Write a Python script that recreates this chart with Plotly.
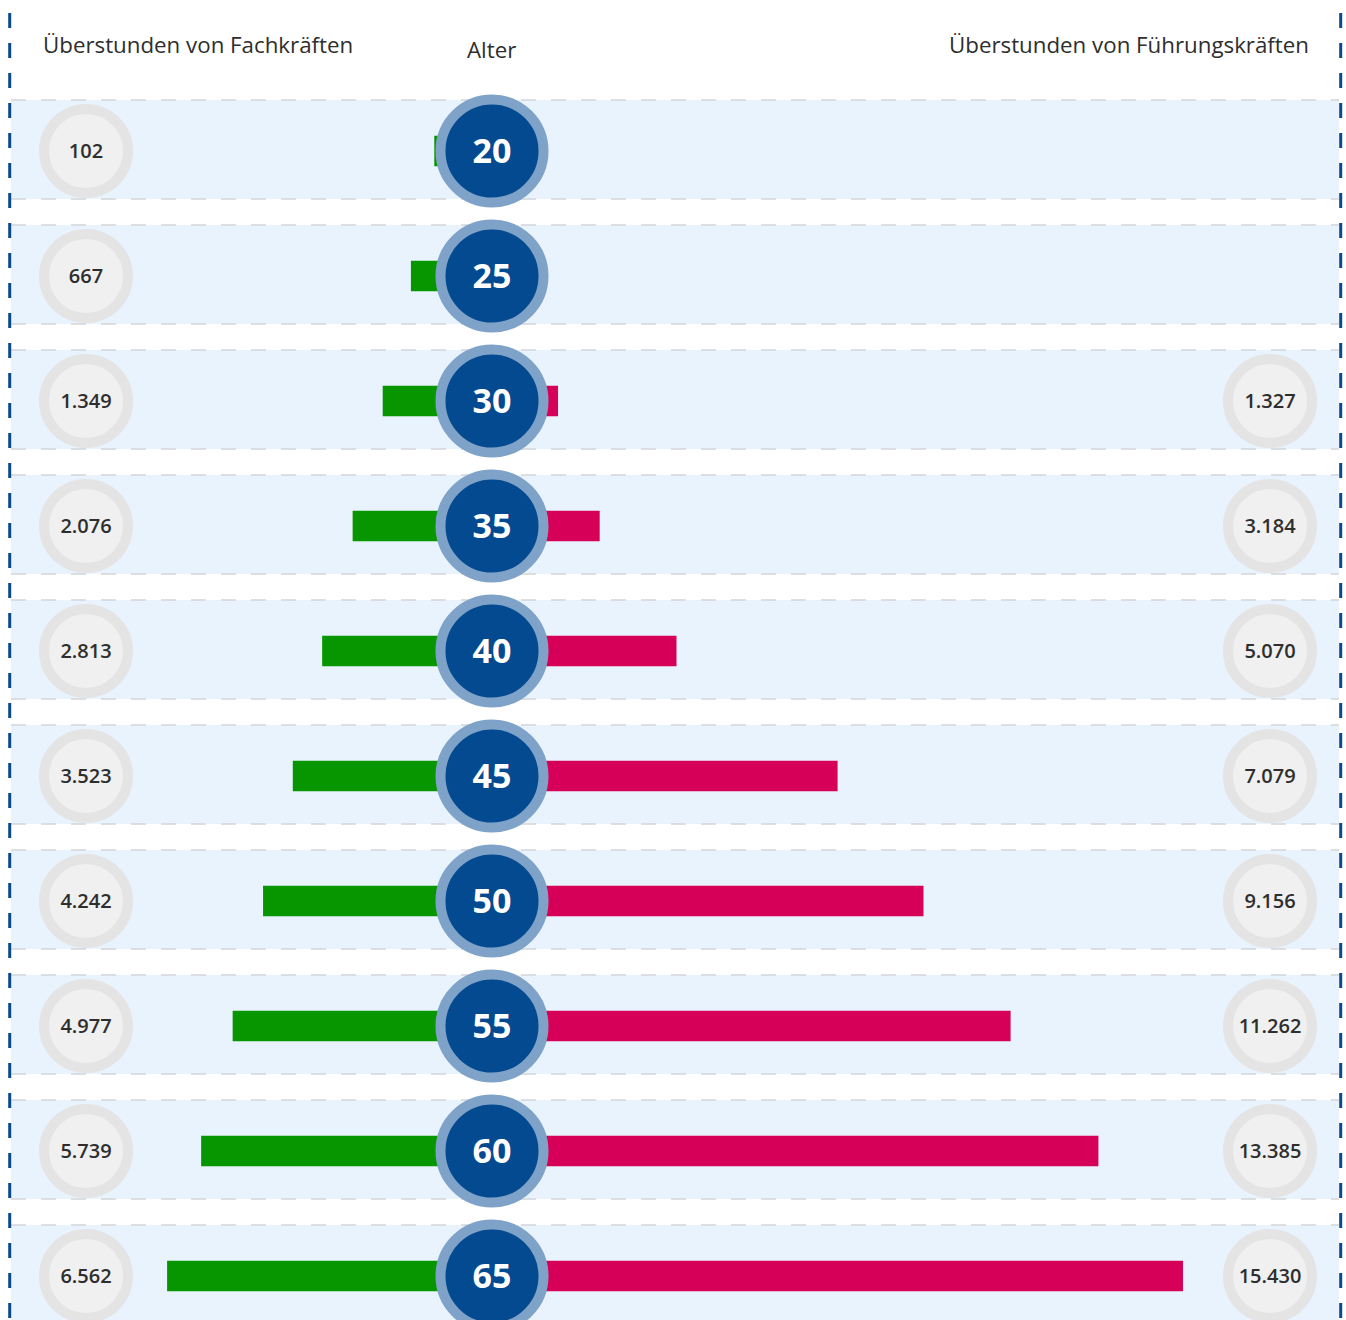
import plotly.graph_objects as go

# ---------------- data ----------------
ages = [20, 25, 30, 35, 40, 45, 50, 55, 60, 65]
fach_values = [102, 667, 1349, 2076, 2813, 3523, 4242, 4977, 5739, 6562]
fuehrung_labels = [None, None, 1327, 3184, 5070, 7079, 9156, 11262, 13385, 15430]
# bar lengths as drawn in the reference (red bars)
fuehrung_bars = [0, 0, 320, 1327, 3184, 7079, 9156, 11262, 13385, 15430]

header_left = "Überstunden von Fachkräften"
header_mid = "Alter"
header_right = "Überstunden von Führungskräften"

# ---------------- style ----------------
W, H = 1346, 1320
GREEN = "#079600"
RED = "#d70058"
BLUE = "#044a91"
RING = "#7fa3c8"
BAND = "#e8f3fd"
GRID = "#d3d5d8"
TXT = "#2e2e2e"

PX_PER_UNIT = 0.04136
CENTER_X = 492
ZERO_LEFT = 438.5
ZERO_RIGHT = 544.8
ROW0 = 151
ROW_STEP = 125
AGE_TXT_SHIFT = 3 / ROW_STEP     # small downward nudge of text glyphs
LBL_TXT_SHIFT = 2 / ROW_STEP

def fmt(v):
    return f"{v:,}".replace(",", ".")

rows = list(range(len(ages)))

fig = go.Figure()

# bands
shapes = []
for i in rows:
    y0 = i + (100 - ROW0) / ROW_STEP
    y1 = i + (199 - ROW0) / ROW_STEP
    shapes.append(dict(type="rect", xref="paper", yref="y", x0=11 / W, x1=1339 / W,
                       y0=y0, y1=y1, fillcolor=BAND, line=dict(width=0), layer="below"))
    for yy in (y0, y1):
        shapes.append(dict(type="line", xref="paper", yref="y", x0=11 / W, x1=1339 / W,
                           y0=yy, y1=yy, line=dict(color=GRID, width=1.5, dash="15px,15px"),
                           layer="below"))
# blue dashed side lines
for xx in (9.7, 1340.7):
    shapes.append(dict(type="line", xref="paper", yref="paper", x0=xx / W, x1=xx / W,
                       y0=1 - 13 / H, y1=0, line=dict(color="#0a4a8c", width=3, dash="15px,15px"),
                       layer="above"))

# green bars (Fachkräfte)
fig.add_trace(go.Bar(y=rows, x=fach_values, orientation="h", width=0.244,
                     marker=dict(color=GREEN, line=dict(width=0)), xaxis="x", yaxis="y",
                     hoverinfo="skip"))
# red bars (Führungskräfte)
fig.add_trace(go.Bar(y=rows, x=fuehrung_bars, orientation="h", width=0.244,
                     marker=dict(color=RED, line=dict(width=0)), xaxis="x2", yaxis="y",
                     hoverinfo="skip"))

# age circles
fig.add_trace(go.Scatter(x=[0] * len(rows), y=rows, mode="markers",
                         marker=dict(size=103, color=BLUE, line=dict(color=RING, width=10)),
                         xaxis="x3", yaxis="y", cliponaxis=False, hoverinfo="skip"))
fig.add_trace(go.Scatter(x=[0] * len(rows), y=[r + AGE_TXT_SHIFT for r in rows], mode="text",
                         text=[str(a) for a in ages], textposition="middle center",
                         textfont=dict(family="Open Sans", size=34, color="white", weight=700),
                         xaxis="x3", yaxis="y", cliponaxis=False, hoverinfo="skip"))

# left value circles
fig.add_trace(go.Scatter(x=[86 - CENTER_X] * len(rows), y=rows, mode="markers",
                         marker=dict(size=84, color="#f0f0f0", line=dict(color="#e4e4e4", width=10)),
                         xaxis="x3", yaxis="y", cliponaxis=False, hoverinfo="skip"))
fig.add_trace(go.Scatter(x=[86 - CENTER_X] * len(rows), y=[r + LBL_TXT_SHIFT for r in rows],
                         mode="text", text=[fmt(v) for v in fach_values], textposition="middle center",
                         textfont=dict(family="Open Sans", size=20, color=TXT, weight=600),
                         xaxis="x3", yaxis="y", cliponaxis=False, hoverinfo="skip"))

# right value circles
r_rows = [i for i in rows if fuehrung_labels[i] is not None]
fig.add_trace(go.Scatter(x=[1270 - CENTER_X] * len(r_rows), y=r_rows, mode="markers",
                         marker=dict(size=84, color="#f0f0f0", line=dict(color="#e4e4e4", width=10)),
                         xaxis="x3", yaxis="y", cliponaxis=False, hoverinfo="skip"))
fig.add_trace(go.Scatter(x=[1270 - CENTER_X] * len(r_rows), y=[i + LBL_TXT_SHIFT for i in r_rows],
                         mode="text", text=[fmt(fuehrung_labels[i]) for i in r_rows],
                         textposition="middle center",
                         textfont=dict(family="Open Sans", size=20, color=TXT, weight=600),
                         xaxis="x3", yaxis="y", cliponaxis=False, hoverinfo="skip"))

HDR_FONT = dict(family="Open Sans", size=22.3, color=TXT)
annotations = [
    dict(text=header_left, xref="paper", yref="paper", x=41 / W, y=1 - 45 / H,
         xanchor="left", yanchor="middle", showarrow=False, font=HDR_FONT),
    dict(text=header_mid, xref="paper", yref="paper", x=CENTER_X / W, y=1 - 50 / H,
         xanchor="center", yanchor="middle", showarrow=False, font=HDR_FONT),
    dict(text=header_right, xref="paper", yref="paper", x=1311 / W, y=1 - 45 / H,
         xanchor="right", yanchor="middle", showarrow=False, font=HDR_FONT),
]

ax_hidden = dict(showgrid=False, zeroline=False, showticklabels=False, showline=False, ticks="",
                 fixedrange=True)

fig.update_layout(
    width=W, height=H, autosize=False,
    margin=dict(l=0, r=0, t=0, b=0, pad=0),
    paper_bgcolor="white", plot_bgcolor="rgba(0,0,0,0)",
    showlegend=False, barmode="overlay",
    shapes=shapes, annotations=annotations,
    xaxis=dict(domain=[0, ZERO_LEFT / W], range=[ZERO_LEFT / PX_PER_UNIT, 0], anchor="y", **ax_hidden),
    xaxis2=dict(domain=[ZERO_RIGHT / W, 1], range=[0, (W - ZERO_RIGHT) / PX_PER_UNIT], anchor="y", **ax_hidden),
    xaxis3=dict(domain=[0, 1], range=[-CENTER_X, W - CENTER_X], anchor="y", **ax_hidden),
    yaxis=dict(domain=[0, 1], range=[(H - ROW0) / ROW_STEP, -ROW0 / ROW_STEP], **ax_hidden),
)

fig.write_html("out.html", include_plotlyjs=True, config={"displayModeBar": False, "responsive": False},
               post_script="document.body.style.margin='0';document.body.style.overflow='hidden';")
